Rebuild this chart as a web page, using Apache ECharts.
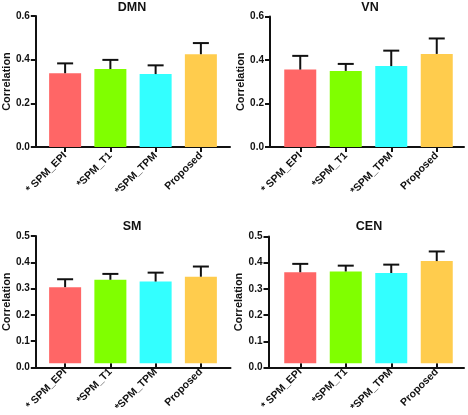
<!DOCTYPE html>
<html><head><meta charset="utf-8">
<script src="https://cdn.jsdelivr.net/npm/echarts@6/dist/echarts.min.js"></script>
<style>html,body{margin:0;padding:0;background:#fff}#c{width:468px;height:415px}</style>
</head><body><div id="c"></div>
<script>
const categories = ['* SPM_EPI', '*SPM_T1', '*SPM_TPM', 'Proposed'];
const panelTitles = ['DMN', 'VN', 'SM', 'CEN'];
const dmnMean = [0.338, 0.357, 0.334, 0.425];
const dmnErr  = [0.045, 0.042, 0.040, 0.051];
const vnMean  = [0.356, 0.350, 0.372, 0.428];
const vnErr   = [0.063, 0.032, 0.071, 0.071];
const smMean  = [0.299, 0.328, 0.321, 0.340];
const smErr   = [0.031, 0.023, 0.035, 0.040];
const cenMean = [0.359, 0.362, 0.356, 0.403];
const cenErr  = [0.033, 0.023, 0.033, 0.038];
const yMaxes  = [0.6, 0.6, 0.5, 0.5];
const ySteps  = [0.2, 0.2, 0.1, 0.1];
const yAxisTitle = 'Correlation';
const barColors = ['#FF6666', '#80FF00', '#33FFFF', '#FFCC4D'];

const means = [dmnMean, vnMean, smMean, cenMean];
const errs = [dmnErr, vnErr, smErr, cenErr];

// layout (pixels)
const layout = [
  {axL: 33, axW: 197, top: 16, h: 131, barL: 42.5, barW: 181, titleX: 132, titleY: 1},
  {axL: 270, axW: 194, top: 16.5, h: 130.5, barL: 277.5, barW: 182, titleX: 370, titleY: 1},
  {axL: 32.5, axW: 198, top: 236, h: 131.5, barL: 42.5, barW: 181, titleX: 132, titleY: 220},
  {axL: 268.5, axW: 195.5, top: 236.5, h: 131, barL: 277.5, barW: 182, titleX: 369, titleY: 220}
];
const FONT = '"Liberation Sans", Arial, sans-serif';
const ink = '#111';

const option = {
  animation: false,
  color: barColors,
  textStyle: {fontFamily: FONT},
  title: [], grid: [], xAxis: [], yAxis: [], series: []
};

layout.forEach((L, i) => {
  option.title.push({
    text: panelTitles[i], left: L.titleX, top: L.titleY, textAlign: 'center', padding: 0,
    textStyle: {fontFamily: FONT, fontWeight: 'bold', fontSize: 12.5, color: ink}
  });
  option.grid.push({left: L.axL, top: L.top, width: L.axW, height: L.h, containLabel: false});
  option.grid.push({left: L.barL, top: L.top, width: L.barW, height: L.h, containLabel: false});
  const ga = 2 * i, gb = 2 * i + 1;
  option.xAxis.push({
    gridIndex: ga, type: 'value', min: 0, max: 1,
    axisLine: {show: true, lineStyle: {color: ink, width: 2}},
    axisTick: {show: false}, axisLabel: {show: false}, splitLine: {show: false}
  });
  option.xAxis.push({
    gridIndex: gb, type: 'category', data: categories,
    axisLine: {show: false},
    axisTick: {show: true, alignWithLabel: true, length: 5, lineStyle: {color: ink, width: 2}},
    axisLabel: {rotate: 45, margin: 7, fontSize: 10.5, fontWeight: 'bold', color: ink, fontFamily: FONT, interval: 0}
  });
  option.yAxis.push({
    gridIndex: ga, type: 'value', min: 0, max: yMaxes[i], interval: ySteps[i],
    name: yAxisTitle, nameLocation: 'middle', nameGap: 15,
    nameTextStyle: {fontFamily: FONT, fontWeight: 'bold', fontSize: 11, color: ink},
    axisLine: {show: true, lineStyle: {color: ink, width: 2}},
    axisTick: {show: true, length: 5, lineStyle: {color: ink, width: 2}},
    axisLabel: {margin: 6, fontSize: 10, fontWeight: 'bold', color: ink, fontFamily: FONT,
      formatter: v => v.toFixed(1)},
    splitLine: {show: false}
  });
  option.yAxis.push({gridIndex: gb, type: 'value', min: 0, max: yMaxes[i], show: false, splitLine: {show: false}});
  option.series.push({
    type: 'bar', xAxisIndex: gb, yAxisIndex: gb, colorBy: 'data',
    barWidth: 32, data: means[i], z: 2
  });
  option.series.push({
    type: 'custom', xAxisIndex: gb, yAxisIndex: gb, z: 3,
    data: means[i].map((m, k) => [k, m, m + errs[i][k]]),
    renderItem: (params, api) => {
      const p0 = api.coord([api.value(0), api.value(1)]);
      const p1 = api.coord([api.value(0), api.value(2)]);
      const st = {stroke: ink, lineWidth: 2};
      return {type: 'group', children: [
        {type: 'line', shape: {x1: p0[0], y1: p0[1], x2: p1[0], y2: p1[1]}, style: st},
        {type: 'line', shape: {x1: p1[0] - 8, y1: p1[1], x2: p1[0] + 8, y2: p1[1]}, style: st}
      ]};
    }
  });
});

const chart = echarts.init(document.getElementById('c'), null, {renderer: 'canvas'});
chart.setOption(option);
</script>
</body></html>
